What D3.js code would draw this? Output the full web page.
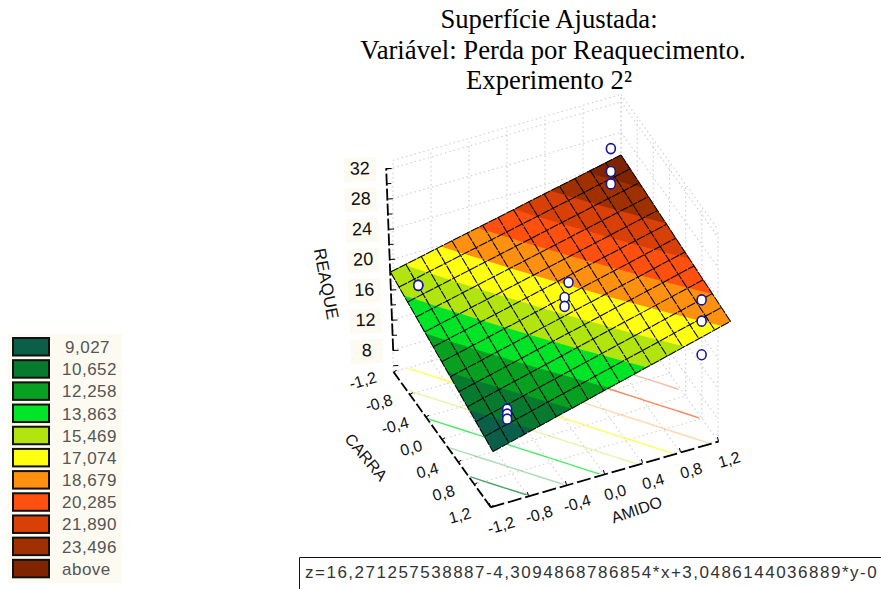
<!DOCTYPE html>
<html>
<head>
<meta charset="utf-8">
<script src="https://cdn.jsdelivr.net/npm/d3@7"></script>
<style>
  body { margin: 0; background: #fff; }
  svg { display: block; }
</style>
</head>
<body>
<svg id="chart"></svg>
<script>
let outerWidth = 881;
let outerHeight = 589;

let titleLines = ['Superfície Ajustada:', 'Variável: Perda por Reaquecimento.', 'Experimento 2²']
let equation = 'z=16,271257538887-4,3094868786854*x+3,0486144036889*y-0'

let legendLabels = ['9,027', '10,652', '12,258', '13,863', '15,469', '17,074', '18,679', '20,285', '21,890', '23,496', 'above']
let levels = [0, 9.027, 10.652, 12.258, 13.863, 15.469, 17.074, 18.679, 20.285, 21.89, 23.496]
let levelColors = ['#0b5f48', '#087a30', '#08a020', '#00e428', '#b2e410', '#ffff10', '#ff9010', '#ff5010', '#d84008', '#a03000', '#802400']

let zTicks = [8, 12, 16, 20, 24, 28, 32]
let zMinor = [6, 10, 14, 18, 22, 26, 30, 32]
let sideTicks = [-1.2, -0.8, -0.4, 0, 0.4, 0.8, 1.2]

// fitted surface, rows go along carra, columns along amido
let surface = [
  [14.85,15.53,16.20,16.88,17.56,18.23,18.91,19.59,20.26,20.94,21.62,22.29,22.97,23.65,24.32,25.00],
  [14.22,14.90,15.57,16.25,16.93,17.60,18.28,18.96,19.63,20.31,20.99,21.66,22.34,23.02,23.69,24.37],
  [13.59,14.27,14.94,15.62,16.30,16.97,17.65,18.33,19.00,19.68,20.36,21.03,21.71,22.39,23.06,23.74],
  [12.96,13.64,14.31,14.99,15.67,16.34,17.02,17.70,18.37,19.05,19.73,20.40,21.08,21.76,22.43,23.11],
  [12.33,13.01,13.68,14.36,15.04,15.71,16.39,17.07,17.74,18.42,19.10,19.77,20.45,21.13,21.80,22.48],
  [11.70,12.38,13.05,13.73,14.41,15.08,15.76,16.44,17.11,17.79,18.47,19.14,19.82,20.50,21.17,21.85],
  [11.07,11.75,12.42,13.10,13.78,14.45,15.13,15.81,16.48,17.16,17.84,18.51,19.19,19.87,20.54,21.22],
  [10.44,11.12,11.79,12.47,13.15,13.82,14.50,15.18,15.85,16.53,17.21,17.88,18.56,19.24,19.91,20.59],
  [9.81,10.49,11.16,11.84,12.52,13.19,13.87,14.55,15.22,15.90,16.58,17.25,17.93,18.61,19.28,19.96],
  [9.18,9.86,10.53,11.21,11.89,12.56,13.24,13.92,14.59,15.27,15.95,16.62,17.30,17.98,18.65,19.33],
  [8.55,9.23,9.90,10.58,11.26,11.93,12.61,13.29,13.96,14.64,15.32,15.99,16.67,17.35,18.02,18.70],
  [7.92,8.60,9.27,9.95,10.63,11.30,11.98,12.66,13.33,14.01,14.69,15.36,16.04,16.72,17.39,18.07],
  [7.29,7.97,8.64,9.32,10.00,10.67,11.35,12.03,12.70,13.38,14.06,14.73,15.41,16.09,16.76,17.44]
]

// design points of the 2² experiment
let pointAmido = [-1, -1, 1, 1, 1, 1, 1, 1, 0.1, 0.06, 0.06, -0.97, -0.97, -0.97]
let pointCarra = [-1, -1, -1, -1, -1, 1, 1, 1, 0, 0, 0, 1, 1, 1]
let pointZ = [13.6, 13.6, 28.9, 24.8, 22.6, 20.5, 16.7, 10.7, 18.8, 16.3, 14.7, 11.6, 10.7, 9.8]

let svg = d3.select('#chart')
  .attr('width', outerWidth)
  .attr('height', outerHeight)

// box projection: floor is a flat parallelogram, z goes straight up
let floorXa = d3.scaleLinear().domain([-1.2, 1.2]).range([0, 228])
let floorYa = d3.scaleLinear().domain([-1.2, 1.2]).range([0, -66])
let floorXc = d3.scaleLinear().domain([-1.2, 1.2]).range([393, 490])
let floorYc = d3.scaleLinear().domain([-1.2, 1.2]).range([372, 507])
let zScale = d3.scaleLinear().domain([8, 32]).range([350, 168])
let zFloor = 5.1
let zTop = 33

function boxX(a, c) { return floorXa(a) + floorXc(c) }
function boxY(a, c, z) { return floorYa(a) + floorYc(c) + zScale(z) - zScale(zFloor) }

// surface projection, has a small twist because the original is in perspective
let surfXa = d3.scaleLinear().domain([-1.2, 1.2]).range([441.75, 675.75])
let surfXc = d3.scaleLinear().domain([-1.2, 1.2]).range([-53, 53])
let surfYa = d3.scaleLinear().domain([-1.2, 1.2]).range([423.8, 357])
let surfYc = d3.scaleLinear().domain([-1.2, 1.2]).range([-65.3, 65.3])
let lift = d3.scaleLinear().domain([0, 32]).range([0, 179.2])
let twistX = 1.75 / 1.44
let twistY = -3.3 / 1.44

function surfX(a, c) { return surfXa(a) + surfXc(c) + twistX * a * c }
function surfY(a, c, z) { return surfYa(a) + surfYc(c) + twistY * a * c - lift(z) }

let nCols = surface[0].length
let nRows = surface.length
let colToAmido = d3.scaleLinear().domain([0, nCols - 1]).range([-1.2, 1.2])
let rowToCarra = d3.scaleLinear().domain([0, nRows - 1]).range([-1.2, 1.2])
let flatZ = surface.flat()

function zAt(a, c) { //bilinear read of the table, used for the band outlines
  let u = Math.max(0, Math.min(nCols - 1.0001, colToAmido.invert(a)))
  let v = Math.max(0, Math.min(nRows - 1.0001, rowToCarra.invert(c)))
  let i = Math.floor(u), j = Math.floor(v)
  let fu = u - i, fv = v - j
  return (surface[j][i] * (1 - fu) + surface[j][i + 1] * fu) * (1 - fv) +
    (surface[j + 1][i] * (1 - fu) + surface[j + 1][i + 1] * fu) * fv
}

let contours = d3.contours().size([nCols, nRows]).thresholds(levels)(flatZ)

function gridToAC(u, v) {
  let i = Math.max(0, Math.min(nCols - 1, u - 0.5))
  let j = Math.max(0, Math.min(nRows - 1, v - 0.5))
  return [colToAmido(i), rowToCarra(j)]
}

let surfacePath = d3.geoPath(d3.geoTransform({
  point: function(u, v) {
    let [a, c] = gridToAC(u, v)
    this.stream.point(surfX(a, c), surfY(a, c, zAt(a, c)))
  }
}))

let floorPath = d3.geoPath(d3.geoTransform({
  point: function(u, v) {
    let [a, c] = gridToAC(u, v)
    this.stream.point(boxX(a, c), boxY(a, c, zFloor))
  }
}))

let lineGen = d3.line()

// title
let titleX = [549, 553, 549]
svg.append('g')
  .selectAll('text')
  .data(titleLines)
  .enter()
  .append('text')
  .attr('x', (d, i) => titleX[i])
  .attr('y', (d, i) => 28 + i * 30.5)
  .attr('text-anchor', 'middle')
  .style('font', '26.7px "Liberation Serif"')
  .attr('fill', '#000')
  .text(d => d)

// walls and floor, dotted
let gridG = svg.append('g')
  .attr('fill', 'none')
  .attr('stroke', '#d2d2d2')
  .attr('stroke-width', 1.2)
  .attr('stroke-dasharray', '1.5 3')

for (let z of zTicks.concat([zTop])) {
  gridG.append('path').attr('d', lineGen([[boxX(-1.2, -1.2), boxY(-1.2, -1.2, z)], [boxX(1.2, -1.2), boxY(1.2, -1.2, z)]]))
  gridG.append('path').attr('d', lineGen([[boxX(1.2, -1.2), boxY(1.2, -1.2, z)], [boxX(1.2, 1.2), boxY(1.2, 1.2, z)]]))
}
for (let t of sideTicks) {
  gridG.append('path').attr('d', lineGen([[boxX(t, -1.2), boxY(t, -1.2, zFloor)], [boxX(t, -1.2), boxY(t, -1.2, zTop)]]))
  gridG.append('path').attr('d', lineGen([[boxX(1.2, t), boxY(1.2, t, zFloor)], [boxX(1.2, t), boxY(1.2, t, zTop)]]))
  gridG.append('path').attr('d', lineGen([[boxX(t, -1.2), boxY(t, -1.2, zFloor)], [boxX(t, 1.2), boxY(t, 1.2, zFloor)]]))
  gridG.append('path').attr('d', lineGen([[boxX(-1.2, t), boxY(-1.2, t, zFloor)], [boxX(1.2, t), boxY(1.2, t, zFloor)]]))
}

// contour lines thrown on the floor
let floorInset = [[-1.18, -1.18], [1.18, -1.18], [1.18, 1.18], [-1.18, 1.18]]
  .map(d => [boxX(d[0], d[1]), boxY(d[0], d[1], zFloor)])
svg.append('clipPath')
  .attr('id', 'floor-clip')
  .append('path')
  .attr('d', lineGen(floorInset) + 'Z')

svg.append('g')
  .attr('clip-path', 'url(#floor-clip)')
  .selectAll('path')
  .data(contours.slice(1))
  .enter()
  .append('path')
  .attr('d', floorPath)
  .attr('fill', 'none')
  .attr('stroke', (d, i) => levelColors[i + 1])
  .attr('stroke-opacity', (d, i) => i % 2 ? 0.35 : 0.7)
  .attr('stroke-width', 1.4)

// axes
let zAxisG = svg.append('g')
  .attr('transform', 'translate(393.5,' + zScale(zFloor) + ') rotate(-2.2) translate(0,' + (-zScale(zFloor)) + ')')
zAxisG.append('g')
  .call(d3.axisLeft(zScale).tickValues(zMinor).tickSizeInner(-5).tickSizeOuter(0).tickFormat(''))
  .call(g => g.select('.domain').attr('stroke-width', 1.8).attr('stroke-dasharray', '12 3'))
zAxisG.append('g')
  .call(d3.axisLeft(zScale).tickValues(zTicks).tickSizeInner(-6).tickSizeOuter(0))
  .call(g => g.select('.domain').remove())
  .call(g => g.selectAll('.tick')
    .insert('rect', 'text')
    .attr('x', -42).attr('y', -12).attr('width', 32).attr('height', 24).attr('fill', '#fcfaf1'))
  .call(g => g.selectAll('.tick text')
    .attr('text-anchor', 'middle')
    .attr('x', -26)
    .attr('dy', 0)
    .attr('dominant-baseline', 'middle')
    .attr('fill', '#111')
    .style('font', '18px "Liberation Sans"'))

let commaFormat = d => d3.format('.1f')(d).replace('.', ',').replace('\u2212', '-')

let amidoLen = Math.hypot(228, 66)
let amidoAxisScale = d3.scaleLinear().domain([-1.2, 1.2]).range([0, amidoLen])
let amidoG = svg.append('g')
  .attr('transform', 'translate(' + boxX(-1.2, 1.2) + ',' + boxY(-1.2, 1.2, zFloor) + ') rotate(-16.1)')
  .call(d3.axisBottom(amidoAxisScale).tickValues(sideTicks).tickSizeInner(-4).tickSizeOuter(0).tickFormat(commaFormat))
  .call(g => g.select('.domain').attr('stroke-width', 1.8).attr('stroke-dasharray', '14 4'))
amidoG.selectAll('.tick text')
  .attr('text-anchor', 'middle')
  .attr('y', 0)
  .attr('dy', 0)
  .attr('dominant-baseline', 'middle')
  .attr('transform', 'translate(5,22)')
  .attr('fill', '#111')
  .style('font', '16px "Liberation Sans"')

let carraLen = Math.hypot(97, 135)
let carraAxisScale = d3.scaleLinear().domain([-1.2, 1.2]).range([0, carraLen])
let carraG = svg.append('g')
  .attr('transform', 'translate(' + boxX(-1.2, -1.2) + ',' + boxY(-1.2, -1.2, zFloor) + ') rotate(-35.7)')
  .call(d3.axisLeft(carraAxisScale).tickValues(sideTicks).tickSizeInner(-4).tickSizeOuter(0).tickFormat(commaFormat))
  .call(g => g.select('.domain').attr('stroke-width', 1.8).attr('stroke-dasharray', '10 3'))
carraG.selectAll('.tick text')
  .attr('text-anchor', 'middle')
  .attr('x', 0)
  .attr('dy', 0)
  .attr('dominant-baseline', 'middle')
  .attr('transform', 'translate(-30,-10) rotate(20)')
  .attr('fill', '#111')
  .style('font', '16px "Liberation Sans"')

// axis titles
let axisTitles = [
  { text: 'REAQUE', x: 325, y: 284, rot: 79, size: 17 },
  { text: 'CARRA', x: 365, y: 458, rot: 50, size: 16 },
  { text: 'AMIDO', x: 637, y: 511, rot: -19, size: 16 }
]
svg.selectAll('.axis-title')
  .data(axisTitles)
  .enter()
  .append('text')
  .attr('class', 'axis-title')
  .attr('transform', d => 'translate(' + d.x + ',' + d.y + ') rotate(' + d.rot + ')')
  .attr('text-anchor', 'middle')
  .attr('dominant-baseline', 'middle')
  .style('font-family', '"Liberation Sans"')
  .style('font-size', d => d.size + 'px')
  .attr('fill', '#111')
  .text(d => d.text)

// surface bands
svg.append('g')
  .selectAll('path')
  .data(contours)
  .enter()
  .append('path')
  .attr('d', surfacePath)
  .attr('fill', (d, i) => levelColors[i])

// mesh
let meshG = svg.append('g')
  .attr('fill', 'none')
  .attr('stroke', '#0a0a0a')
  .attr('stroke-width', 1.1)
  .attr('stroke-dasharray', '9 1')
for (let i = 0; i < nCols; i++) {
  let a = colToAmido(i)
  meshG.append('path').attr('d', lineGen(surface.map((row, j) => [surfX(a, rowToCarra(j)), surfY(a, rowToCarra(j), row[i])])))
}
for (let j = 0; j < nRows; j++) {
  let c = rowToCarra(j)
  meshG.append('path').attr('d', lineGen(surface[j].map((z, i) => [surfX(colToAmido(i), c), surfY(colToAmido(i), c, z)])))
}

// design points
svg.append('g')
  .selectAll('ellipse')
  .data(pointZ)
  .enter()
  .append('ellipse')
  .attr('cx', (d, i) => surfX(pointAmido[i], pointCarra[i]))
  .attr('cy', (d, i) => surfY(pointAmido[i], pointCarra[i], d))
  .attr('rx', 4.5)
  .attr('ry', 5)
  .attr('fill', '#fff')
  .attr('stroke', '#16169a')
  .attr('stroke-width', 1.6)

// legend
let legendScale = d3.scaleBand().domain(legendLabels).range([338, 582])

svg.append('rect')
  .attr('x', 8)
  .attr('y', 334)
  .attr('width', 114)
  .attr('height', 249)
  .attr('fill', '#fcfaf1')

let legendRow = svg.append('g')
  .selectAll('g')
  .data(legendLabels)
  .enter()
  .append('g')
  .attr('transform', d => 'translate(0,' + legendScale(d) + ')')

legendRow.append('rect')
  .attr('x', 13)
  .attr('y', 0)
  .attr('width', 36)
  .attr('height', 17.5)
  .attr('stroke', '#111')
  .attr('stroke-width', 2)
  .attr('fill', (d, i) => levelColors[i])

legendRow.append('text')
  .attr('x', d => d === '9,027' ? 65 : 62)
  .attr('y', 15)
  .style('font', '17px "Liberation Sans"')
  .style('letter-spacing', '0.5px')
  .attr('fill', '#555')
  .text(d => d)

// equation box, cut by the right edge like the original
svg.append('path')
  .attr('d', lineGen([[299.5, 589], [299.5, 557.5], [881, 557.5]]))
  .attr('fill', 'none')
  .attr('stroke', '#111')
  .attr('stroke-width', 1)

svg.append('text')
  .attr('x', 305)
  .attr('y', 578)
  .style('font', '17px "Liberation Sans"')
  .style('letter-spacing', '1.5px')
  .attr('fill', '#333')
  .text(equation)
</script>
</body>
</html>
